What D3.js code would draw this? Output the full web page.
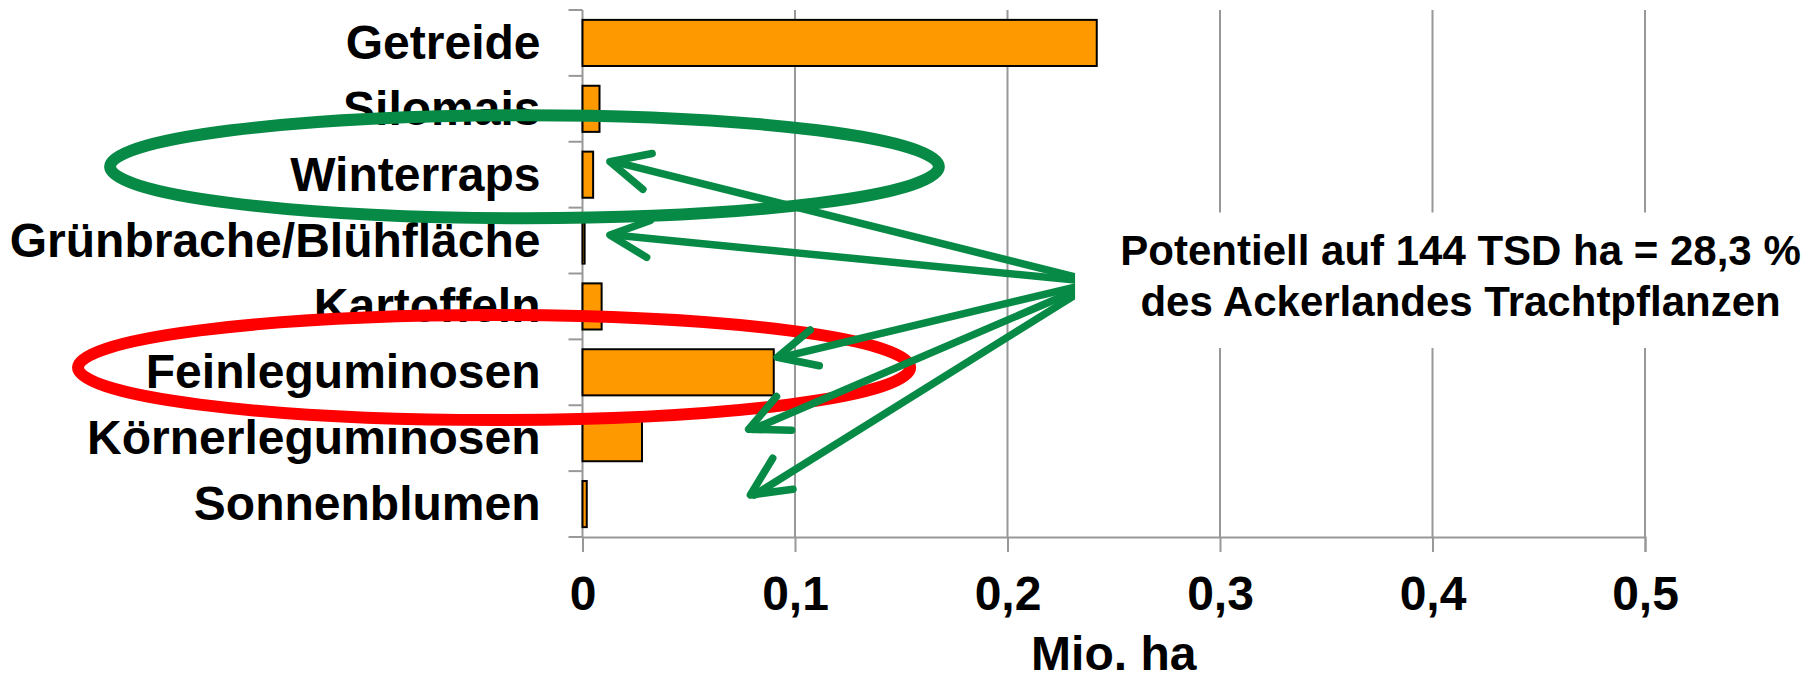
<!DOCTYPE html>
<html>
<head>
<meta charset="utf-8">
<script src="https://cdn.jsdelivr.net/npm/d3@7"></script>
<style>
  html, body { margin: 0; padding: 0; background: #ffffff; }
  svg { display: block; }
  text { font-family: "Liberation Sans", Arial, sans-serif; font-weight: bold; fill: #000; }
</style>
</head>
<body>
<svg id="chart" width="1819" height="678"></svg>
<script>
// ---- data ----
const categories = ["Getreide", "Silomais", "Winterraps", "Grünbrache/Blühfläche", "Kartoffeln", "Feinleguminosen", "Körnerleguminosen", "Sonnenblumen"];
const values = [0.242, 0.008, 0.005, 0.001, 0.009, 0.090, 0.028, 0.002];
const xTicks = [0, 0.1, 0.2, 0.3, 0.4, 0.5];
const xTickLabels = ["0", "0,1", "0,2", "0,3", "0,4", "0,5"];
const xTitle = "Mio. ha";
const noteLines = ["Potentiell auf 144 TSD ha = 28,3 %", "des Ackerlandes Trachtpflanzen"];

// annotation geometry in data units (v = x value, row = band index position)
const arrowTail = {v: 0.2322, row: 4.13};
const arrowTips = [
  {v: 0.0129, row: 2.303},
  {v: 0.0129, row: 3.416},
  {v: 0.0916, row: 5.272},
  {v: 0.0782, row: 6.365},
  {v: 0.0790, row: 7.362}
];
const ellipses = [
  {v: -0.0273, row: 2.379, rv: 0.195, rrow: 0.782, color: "#078a45"},
  {v: -0.0416, row: 5.427, rv: 0.1958, rrow: 0.797, color: "#ff0000"}
];
const noteBox = {v: 0.2318, rowTop: 3.074, rowBottom: 5.131, textV: 0.4132};

// ---- layout ----
const svg = d3.select("#chart");
const plotLeft = 582.5, plotRight = 1645, plotTop = 10, plotBottom = 537;

const x = d3.scaleLinear().domain([0, 0.5]).range([plotLeft, plotRight]);
const y = d3.scaleBand().domain(categories).range([plotTop, plotBottom])
  .paddingInner(0.3).paddingOuter(0.15);
const step = y.step();
const rowY = r => plotTop + r * step;

const gridColor = "#989898";

// gridlines
svg.append("g").selectAll("line").data(xTicks.slice(1)).join("line")
  .attr("x1", d => x(d)).attr("x2", d => x(d))
  .attr("y1", plotTop).attr("y2", plotBottom)
  .attr("stroke", gridColor).attr("stroke-width", 2);

// x axis
const xAxisG = svg.append("g").attr("transform", `translate(0,${plotBottom})`)
  .call(d3.axisBottom(x).tickValues(xTicks).tickSize(15)
    .tickFormat((d, i) => xTickLabels[i]).tickPadding(0));
xAxisG.select(".domain").attr("stroke", gridColor).attr("stroke-width", 2);
xAxisG.selectAll(".tick line").attr("stroke", gridColor).attr("stroke-width", 2);
xAxisG.selectAll(".tick text")
  .attr("y", 0).attr("dy", null)
  .attr("transform", "translate(0,73)")
  .style("font-size", "48px").style("font-family", "'Liberation Sans', Arial, sans-serif")
  .style("font-weight", "bold").attr("fill", "#000");

// y axis line + boundary ticks
svg.append("line").attr("x1", plotLeft).attr("x2", plotLeft)
  .attr("y1", plotTop).attr("y2", plotBottom)
  .attr("stroke", gridColor).attr("stroke-width", 2);
svg.append("g").selectAll("line").data(d3.range(categories.length + 1)).join("line")
  .attr("x1", plotLeft - 14).attr("x2", plotLeft)
  .attr("y1", d => rowY(d)).attr("y2", d => rowY(d))
  .attr("stroke", gridColor).attr("stroke-width", 2);

// category labels
svg.append("g").selectAll("text").data(categories).join("text")
  .attr("x", plotLeft - 42)
  .attr("y", d => y(d) + y.bandwidth() / 2 + 16)
  .attr("text-anchor", "end")
  .style("font-size", "48px")
  .text(d => d);

// bars
svg.append("g").selectAll("rect").data(categories).join("rect")
  .attr("x", x(0))
  .attr("y", d => y(d))
  .attr("width", (d, i) => x(values[i]) - x(0))
  .attr("height", y.bandwidth())
  .attr("fill", "#ff9900")
  .attr("stroke", "#000").attr("stroke-width", 2);

// x title
svg.append("text").attr("x", (plotLeft + plotRight) / 2).attr("y", 670)
  .attr("text-anchor", "middle").style("font-size", "48px").text(xTitle);

// ellipses
svg.append("g").selectAll("ellipse").data(ellipses).join("ellipse")
  .attr("cx", d => x(d.v)).attr("cy", d => rowY(d.row))
  .attr("rx", d => x(d.rv) - x(0)).attr("ry", d => d.rrow * step)
  .attr("fill", "none").attr("stroke", d => d.color).attr("stroke-width", 12);

// arrows
const green = "#078a45";
const tail = [x(arrowTail.v), rowY(arrowTail.row)];
const barbLen = 43, barbAng = 25.5 * Math.PI / 180;
const arrowG = svg.append("g").attr("fill", "none").attr("stroke", green)
  .attr("stroke-width", 7.5).attr("stroke-linecap", "round").attr("stroke-linejoin", "round");
arrowTips.forEach(t => {
  const tip = [x(t.v), rowY(t.row)];
  arrowG.append("line").attr("x1", tail[0] + 20).attr("y1", tail[1])
    .attr("x2", tip[0] + 4).attr("y2", tip[1]);
  const ang = Math.atan2(tail[1] - tip[1], tail[0] - tip[0]);
  const b1 = [tip[0] + barbLen * Math.cos(ang - barbAng), tip[1] + barbLen * Math.sin(ang - barbAng)];
  const b2 = [tip[0] + barbLen * Math.cos(ang + barbAng), tip[1] + barbLen * Math.sin(ang + barbAng)];
  arrowG.append("path").attr("d", d3.line()([b1, tip, b2]));
});

// note box (white background interrupting gridlines and arrow tails)
svg.append("rect").attr("x", x(noteBox.v)).attr("y", rowY(noteBox.rowTop))
  .attr("width", 1819 - x(noteBox.v))
  .attr("height", rowY(noteBox.rowBottom) - rowY(noteBox.rowTop))
  .attr("fill", "#fff");
svg.append("g").selectAll("text").data(noteLines).join("text")
  .attr("x", x(noteBox.textV)).attr("y", (d, i) => 265 + i * 51)
  .attr("text-anchor", "middle").style("font-size", "42px")
  .text(d => d);
</script>
</body>
</html>
